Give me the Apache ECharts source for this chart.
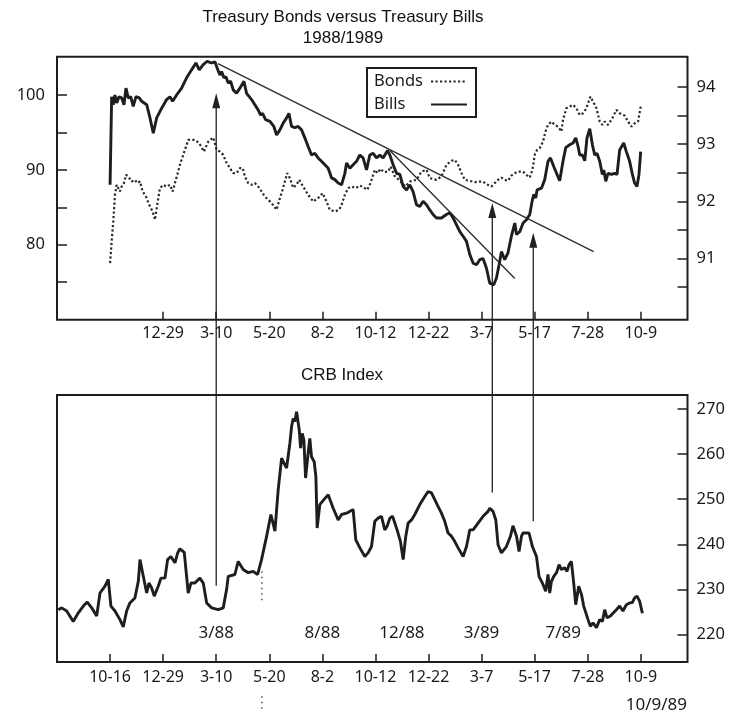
<!DOCTYPE html>
<html><head><meta charset="utf-8">
<script src="https://cdn.jsdelivr.net/npm/echarts@6/dist/echarts.min.js"></script>
<style>html,body{margin:0;padding:0;background:#fff}#c{width:733px;height:714px}</style>
</head><body><div id="c"></div>
<script>
// x axis in trading-day units (one labelled tick every 50 days)
const xTickValues = [50,100,150,200,250,300,350,400,450,500,550];
const xTickLabels = ['10-16','12-29','3-10','5-20','8-2','10-12','12-22','3-7','5-17','7-28','10-9'];
const bondTicks = [75,80,85,90,95,100];
const bondLabels = [80,90,100];
const billTicks = [90.5,91,91.5,92,92.5,93,93.5,94];
const billLabels = [91,92,93,94];
const crbTicks = [220,230,240,250,260,270];

const bondsData = [[50,77.56],[51.5,80.44],[53,83.11],[54.6,86.67],[56.2,88.0],[57.7,87.56],[59.3,87.11],[60.9,87.77],[63.1,88.23],[65,89.33],[67.1,89.11],[70.3,88.44],[73.4,88.67],[75.6,88.23],[78.2,88.44],[80.7,87.11],[83.8,86.44],[86.9,85.33],[90.1,84.44],[92.3,83.33],[94.4,85.33],[97,87.56],[100.1,88.0],[103.3,87.77],[106.4,88.0],[108.9,87.11],[111.1,88.23],[113.3,89.33],[115.8,90.67],[118.9,92.0],[122.1,93.33],[123.6,94.0],[129.9,94.0],[134,93.56],[138.4,92.44],[142.5,93.77],[147.2,94.31],[150.4,92.67],[153.5,92.44],[156.6,92.0],[159.1,91.11],[162.9,90.23],[166,89.56],[169.2,89.56],[172.3,90.23],[174.9,90.23],[177,89.11],[180.1,88.23],[183.3,88.0],[186.4,88.23],[189.5,87.77],[192.7,87.11],[195.8,86.44],[199,86.0],[202.2,85.56],[206.9,84.67],[210,86.23],[212.5,87.33],[214.7,88.44],[216.9,89.56],[219.4,88.89],[222.5,87.6],[225.5,88.0],[228.2,88.67],[231.9,87.77],[236.6,86.67],[241.4,85.77],[246,86.23],[250.2,86.89],[253.9,85.77],[257,84.67],[261.8,84.44],[265.9,84.67],[268.1,85.33],[271.2,86.67],[274.4,87.56],[277.5,87.77],[281.6,87.56],[285.3,87.91],[289.1,87.64],[292.2,87.33],[295.4,88.23],[299.4,90.0],[302,89.56],[304.8,90.13],[307.9,89.69],[312,89.77],[314.3,90.44],[318,89.2],[323,88.53],[328.3,87.77],[332.4,88.44],[338.7,88.67],[343.4,89.77],[348.1,90.0],[351.2,88.89],[357.5,88.67],[362.2,89.11],[366.9,90.67],[371.6,91.2],[374.8,91.33],[377.9,90.67],[381.1,89.56],[384.2,88.67],[388.9,88.53],[393.6,88.36],[398.3,88.44],[401.4,88.44],[404.6,88.09],[409.3,87.77],[412.4,88.23],[415.5,88.67],[418.7,88.97],[421.8,88.67],[424.9,88.53],[428.1,89.24],[431.3,89.56],[434.4,89.77],[439.1,89.77],[442.3,89.33],[445.4,88.97],[447.9,90.0],[450.1,92.0],[452.3,92.67],[454.8,92.89],[457.9,93.77],[460.2,95.11],[462.6,96.0],[465.8,96.44],[468.9,96.0],[472,95.77],[475.2,95.11],[476.7,96.67],[479.9,98.23],[483,98.44],[486.2,98.67],[489.3,98.23],[492.5,97.33],[495.6,97.56],[498.8,98.23],[502.5,99.77],[505,99.11],[508.2,98.23],[511.3,96.44],[513.8,96.0],[516,96.44],[519.1,96.0],[523.2,96.89],[527,98.0],[530.1,97.56],[534.8,97.24],[538,96.44],[541.2,95.77],[544.3,96.23],[547.4,96.44],[549.9,98.44]];

const billsData = [[50,92.29],[51.5,93.83],[53,93.69],[54.6,93.86],[56.2,93.72],[58.4,93.83],[60.9,93.81],[63.1,93.69],[65,93.98],[67.1,93.81],[69.4,93.83],[71.8,93.66],[74.4,93.83],[77.5,93.81],[79.8,93.75],[81.3,93.78],[84.5,93.69],[87.6,93.46],[90.7,93.19],[93.9,93.46],[98.6,93.63],[103.3,93.78],[106.4,93.83],[108.9,93.75],[112.7,93.86],[117.4,93.98],[122.1,94.16],[126.8,94.3],[130.9,94.42],[134,94.3],[137.8,94.39],[141.5,94.45],[145.7,94.42],[148.8,94.44],[150.9,94.33],[153.5,94.21],[155.1,94.27],[157.2,94.16],[159.1,94.18],[161.3,94.07],[163.6,94.1],[166,93.95],[169.2,93.89],[172.3,93.98],[173.9,93.95],[176.1,94.1],[178.6,93.89],[183.3,93.78],[186.4,93.69],[189.5,93.6],[191.8,93.51],[193.7,93.54],[196.5,93.43],[200.6,93.4],[204.3,93.31],[206.9,93.16],[210,93.25],[213.1,93.37],[216.3,93.46],[218.5,93.54],[221,93.31],[224.1,93.29],[227.2,93.31],[230.4,93.25],[233.5,93.11],[236.6,92.96],[239.8,92.81],[242.9,92.84],[246,92.76],[249.2,92.7],[252.4,92.64],[255.5,92.58],[258.7,92.41],[261.8,92.38],[264.9,92.32],[268.1,92.29],[271.2,92.49],[272.8,92.67],[275.9,92.58],[279,92.64],[282.2,92.7],[285.3,92.81],[288.4,92.76],[291.6,92.55],[294.7,92.81],[297.8,92.84],[301,92.76],[304.1,92.81],[307.2,92.76],[311.4,92.89],[313.6,92.81],[316.7,92.64],[319.9,92.49],[323,92.47],[326.1,92.26],[329.3,92.2],[332.4,92.29],[335.5,92.17],[338.7,91.94],[341.8,91.91],[344.9,92.0],[348.1,91.94],[351.2,91.85],[354.3,91.77],[357.5,91.71],[362.2,91.71],[366.9,91.77],[370.1,91.8],[373.2,91.71],[376.4,91.59],[379.5,91.47],[382.6,91.39],[385.8,91.3],[388.9,91.07],[392,90.92],[395.2,90.89],[398.3,90.98],[401.4,91.0],[404.6,90.83],[407.7,90.57],[411.5,90.54],[414,90.66],[416.5,90.89],[418.7,91.12],[421.8,90.98],[424.9,91.1],[428.1,91.39],[431.3,91.62],[432.9,91.42],[436,91.47],[439.1,91.62],[442.3,91.68],[445.4,91.77],[447.6,92.0],[449.1,92.12],[451,92.06],[452.3,92.2],[456.4,92.23],[459.5,92.38],[462.6,92.7],[464.9,92.76],[468,92.61],[471.1,92.47],[473.6,92.36],[476.7,92.7],[479.3,92.94],[483,92.99],[486.2,93.02],[488.7,93.11],[490.9,92.96],[492.5,92.81],[495,92.81],[497.2,92.71],[499.3,93.11],[501.9,93.27],[504.4,92.99],[506.6,92.81],[508.7,92.84],[511.3,92.7],[513.8,92.47],[515.1,92.55],[517,92.35],[519.1,92.49],[522.3,92.47],[525.4,92.49],[527.6,92.47],[530.1,92.9],[533.9,93.02],[536.4,92.87],[539.5,92.7],[542.1,92.47],[544.2,92.32],[546.4,92.26],[548.3,92.47],[549.9,92.87]];

const crbData = [[1.2,225.5],[4.4,225.9],[9.1,225.2],[15.3,222.9],[20.1,224.8],[24.8,226.3],[28.5,227.2],[32.7,225.9],[37.4,224.1],[40.5,229.2],[45.2,230.7],[48.3,232.2],[50.8,226.3],[54.6,225.2],[59.3,223.3],[62.4,221.7],[65.6,225.2],[68.7,227.0],[73.4,228.1],[76.6,231.8],[78.2,236.6],[81.3,232.9],[84.5,229.2],[86.6,231.4],[89.2,230.3],[91.6,228.5],[95.4,230.7],[97.9,232.5],[101.7,232.5],[104.2,236.6],[107.3,237.3],[108.6,237.7],[111.1,235.9],[113.7,238.1],[115.8,239.0],[119.9,238.2],[122.1,232.9],[123.6,229.2],[126.2,231.4],[129.9,231.4],[134.6,232.5],[137.8,231.4],[141,227.0],[145.7,225.9],[151.9,225.5],[156.6,225.9],[159.8,230.0],[161.3,232.9],[167.6,233.3],[170.7,236.2],[175.4,234.4],[180.1,233.7],[184.8,234.0],[189,233.3],[192.7,236.6],[197.5,241.8],[201.5,246.6],[203.1,245.1],[205.3,242.9],[208.4,252.1],[211.6,259.1],[214.7,257.6],[216.3,256.9],[219.4,262.4],[221,266.1],[222.5,267.9],[224.1,267.2],[225.7,269.4],[227.2,269.8],[228.2,265.4],[229.5,261.3],[231,264.6],[232.6,263.1],[234.2,254.7],[236.6,260.2],[238.2,263.5],[239.8,259.4],[242.3,258.3],[243.9,255.0],[245.1,243.6],[247.6,248.8],[251.4,249.9],[255.5,251.0],[260.2,248.0],[264.9,245.4],[268.1,246.6],[272.8,246.9],[279,247.7],[281.5,241.0],[285.3,239.2],[290,237.3],[293.1,238.1],[296.3,239.5],[299.4,245.1],[302.5,245.8],[305.7,246.2],[308.8,243.2],[311,244.0],[313.6,245.8],[316.1,246.2],[318.3,244.7],[320.4,243.2],[323.6,240.6],[326.1,236.6],[328.6,241.8],[330.8,244.7],[334,245.4],[337.1,246.6],[341.8,248.8],[346.5,250.6],[349.6,251.7],[352.8,251.4],[355.9,249.9],[359,248.4],[362.2,246.9],[365.3,245.1],[368.4,242.5],[371.6,241.8],[374.8,240.6],[377.9,239.2],[382.6,237.3],[385.8,239.5],[388.9,243.2],[392,243.2],[396.7,244.7],[401.4,246.2],[406.1,247.3],[407.7,248.0],[410.8,247.3],[413.4,245.4],[415.5,239.9],[418.7,238.1],[423.4,239.5],[427.2,241.8],[429.6,244.1],[432.9,241.8],[435.3,238.4],[437.6,241.8],[439.1,242.5],[444.7,242.5],[447.9,239.5],[451.7,237.3],[454.1,232.9],[457.3,231.4],[460.4,229.6],[462.6,233.3],[464.2,229.2],[465.8,231.8],[468,232.9],[470.6,233.7],[473,235.5],[475.2,234.4],[478.3,234.8],[480.5,234.0],[482.4,235.5],[484.6,236.2],[486.8,231.4],[488.7,226.6],[491.5,230.7],[494.1,228.9],[496.2,226.3],[500.3,223.3],[502.5,221.8],[505,222.6],[508.2,221.5],[511.3,223.3],[513.8,222.9],[516,225.5],[518.2,223.7],[521.4,224.1],[523.8,224.7],[527,225.5],[530.1,226.3],[533.2,225.2],[536.4,226.6],[539.5,227.0],[542.1,227.1],[544.2,228.1],[546.4,228.5],[548.9,227.4],[551.5,224.7]];

// trend lines on the Bills scale
const trendLines = [[[151.6,94.41],[505.6,91.12]], [[313.6,92.89],[431.3,90.65]]];
// arrows: x, start on CRB, tip on Bills
const arrowX = [150, 410.1, 448.7];
const arrowFromCRB = [230.8, 251.5, 245.1];
const arrowToBills = [93.89, 91.97, 91.45];
// period annotations in the CRB panel
const periodLabels = ['3/88','8/88','12/88','3/89','7/89'];
const periodX = [150, 250, 325, 400, 477];
const periodY = [220.2, 220.2, 220.2, 220.2, 220.2];
// faint dotted marks
const dotMarkX = 193;
const dotMarkRanges = [[234, 227], [206.3, 203]];

const INK = '#1e1e1e';
const TXT = '#1a1a1a';
const AXFONT = 'Noto Sans';

function xLabel(v){ const i = xTickValues.indexOf(Math.round(v)); return i >= 0 ? xTickLabels[i] : ''; }

function xAxisCfg(grid, ticks, margin){
  return {type:'value', gridIndex:grid, min:0, max:594, position:'bottom',
    axisLine:{show:false, onZero:false}, splitLine:{show:false},
    axisTick:{show:true, inside:true, length:8, lineStyle:{color:INK, width:1.5}, customValues:ticks},
    axisLabel:{show:true, customValues:ticks, formatter:xLabel, margin:margin, fontSize:16, fontFamily:AXFONT, color:TXT}};
}
function yAxisCfg(grid, pos, min, max, ticks, labels, margin){
  return {type:'value', gridIndex:grid, position:pos, min:min, max:max,
    axisLine:{show:false, onZero:false}, splitLine:{show:false},
    axisTick:{show:true, inside:true, length:10, lineStyle:{color:INK, width:1.5}, customValues:ticks},
    axisLabel:{show:true, customValues:labels, margin:margin, fontSize:16.5, fontFamily:AXFONT, color:TXT}};
}

const chart = echarts.init(document.getElementById('c'), null, {renderer:'canvas'});
const option = {
  animation:false,
  backgroundColor:'#fff',
  grid:[
    {left:57, right:45.5, top:56.7, height:263, show:true, borderColor:INK, borderWidth:2},
    {left:57, right:45.5, top:395, height:267, show:true, borderColor:INK, borderWidth:2}
  ],
  xAxis:[ xAxisCfg(0, xTickValues.slice(1), 6), xAxisCfg(1, xTickValues, 7) ],
  yAxis:[
    yAxisCfg(0,'left',70,105.1,bondTicks,bondLabels,12),
    yAxisCfg(0,'right',89.93,94.53,billTicks,billLabels,9),
    yAxisCfg(1,'right',213.9,273.1,crbTicks,crbTicks,9)
  ],
  legend:{
    data:['Bonds','Bills'], orient:'vertical', align:'right', left:367, top:68,
    padding:[5,8,4,7], itemGap:6, itemWidth:36, itemHeight:14,
    borderColor:INK, borderWidth:2, borderRadius:0, backgroundColor:'#fff',
    itemStyle:{color:'rgba(0,0,0,0)', borderColor:'rgba(0,0,0,0)', borderWidth:0, opacity:0},
    formatter:function(n){ return '{t|' + n + '}'; },
    textStyle:{rich:{t:{width:52, align:'left', fontSize:16.5, fontFamily:AXFONT, color:TXT}}}
  },
  series:[
    {name:'Bonds', type:'line', xAxisIndex:0, yAxisIndex:0, data:bondsData, symbol:'none',
      lineStyle:{color:'#2a2a2a', width:2.2, type:[2.2,2.3]}, itemStyle:{color:'#2a2a2a'}, z:3},
    {name:'Bills', type:'line', xAxisIndex:0, yAxisIndex:1, data:billsData, symbol:'none',
      lineStyle:{color:INK, width:2.9}, itemStyle:{color:INK}, z:4,
      markLine:{silent:true, symbol:['none','none'], label:{show:false},
        lineStyle:{color:'#2a2a2a', width:1.3, type:'solid'},
        data: trendLines.map(function(l){ return [{coord:l[0]},{coord:l[1]}]; })}},
    {name:'CRB', type:'line', xAxisIndex:1, yAxisIndex:2, data:crbData, symbol:'none',
      lineStyle:{color:INK, width:2.9}, z:4},
    {name:'periods', type:'scatter', xAxisIndex:1, yAxisIndex:2, symbol:'circle', symbolSize:1,
      itemStyle:{color:'#fff', opacity:1}, silent:true,
      data: periodX.map(function(x,i){ return [x, periodY[i], periodLabels[i]]; }),
      label:{show:true, position:'inside', formatter:function(p){ return p.data[2]; },
        fontSize:17, fontFamily:AXFONT, color:TXT, textBorderWidth:0, textBorderColor:'transparent', opacity:1}}
  ]
};
chart.setOption(option);

const g = [];
g.push({type:'text', x:343, y:17, z:50, style:{text:'Treasury Bonds versus Treasury Bills', align:'center', verticalAlign:'middle', fontSize:17, fontFamily:'Liberation Sans', fill:'#111'}});
g.push({type:'text', x:343, y:38, z:50, style:{text:'1988/1989', align:'center', verticalAlign:'middle', fontSize:17, fontFamily:'Liberation Sans', fill:'#111'}});
g.push({type:'text', x:342, y:375, z:50, style:{text:'CRB Index', align:'center', verticalAlign:'middle', fontSize:17, fontFamily:'Liberation Sans', fill:'#111'}});
g.push({type:'text', x:687, y:705, z:50, style:{text:'10/9/89', align:'right', verticalAlign:'middle', fontSize:17, fontFamily:AXFONT, fill:TXT}});

for (let i = 0; i < arrowX.length; i++){
  const pb = chart.convertToPixel({seriesIndex:2}, [arrowX[i], arrowFromCRB[i]]);
  const pt = chart.convertToPixel({seriesIndex:1}, [arrowX[i], arrowToBills[i]]);
  g.push({type:'line', z:60, shape:{x1:pb[0], y1:pb[1], x2:pt[0], y2:pt[1]+10}, style:{stroke:'#222', lineWidth:1.3}});
  g.push({type:'polygon', z:60, shape:{points:[[pt[0],pt[1]],[pt[0]-4,pt[1]+15],[pt[0]+4,pt[1]+15]]}, style:{fill:'#222'}});
}
dotMarkRanges.forEach(function(r){
  const a = chart.convertToPixel({seriesIndex:2}, [dotMarkX, r[0]]);
  const b = chart.convertToPixel({seriesIndex:2}, [dotMarkX, r[1]]);
  g.push({type:'line', z:60, shape:{x1:a[0], y1:a[1], x2:b[0], y2:b[1]}, style:{stroke:'#555', lineWidth:1.5, lineDash:[1.5,4]}});
});
chart.setOption({graphic:g});
</script></body></html>
